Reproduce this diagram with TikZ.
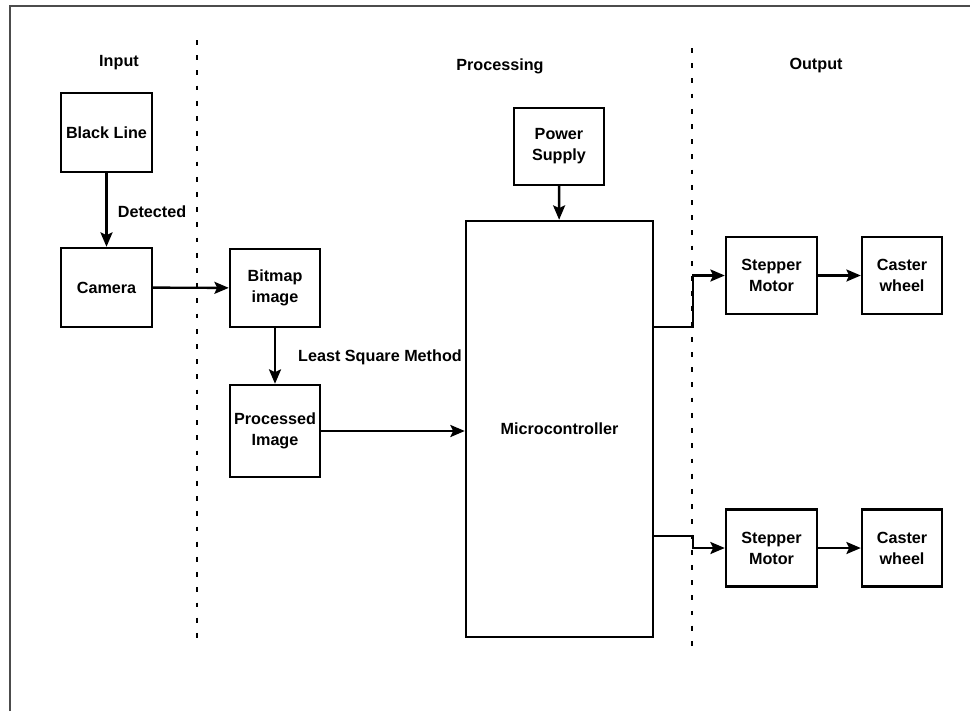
\documentclass[tikz,border=0pt]{standalone}
\usepackage{fontspec}
\setmainfont{Liberation Sans}
\usetikzlibrary{arrows.meta}

\tikzset{
  blk/.style={draw, line width=1.7pt, align=center, inner sep=2pt,
    font=\fontsize{11.5}{15}\selectfont\bfseries},
  lbl/.style={font=\fontsize{11.5}{15}\selectfont\bfseries},
  conn/.style={line width=1.7pt, -{Stealth[length=0.36cm,width=0.3cm,inset=0.07cm]}},
  sep/.style={line width=1.6pt, dash pattern=on 0.12cm off 0.26cm}
}

\begin{document}
\begin{tikzpicture}[x=0.025cm,y=-0.025cm]
            \useasboundingbox (0,0) rectangle (970,711);
            \draw[line width=2pt, black!70] (10,711) -- (10,6) -- (970,6);

            \node[lbl] (in) at (119,63) {Input};
            \node[lbl] (proc) at (500,66) {Processing};
            \node[lbl] (out) at (816,66) {Output};

            \draw[sep] (197,40) -- (197,640);
            \draw[sep] (692,48) -- (692,647);

            \node[blk, minimum width=2.275cm, minimum height=1.975cm] (line) at (106.5,132.5) {Black Line};
            \node[blk, minimum width=2.275cm, minimum height=1.975cm] (cam) at (106.5,287.5) {Camera};
            \node[blk, minimum width=2.25cm, minimum height=1.95cm] (bmp) at (275,288) {Bitmap\\image};
            \node[blk, minimum width=2.25cm, minimum height=2.3cm] (pimg) at (275,431) {Processed\\Image};
            \node[blk, minimum width=2.25cm, minimum height=1.925cm] (pwr) at (559,146.5) {Power\\Supply};
            \node[blk, minimum width=4.675cm, minimum height=10.4cm] (micro) at (559.5,429) {Microcontroller};

            \foreach \i/\y in {1/275.5,2/548}
            {
                \node[blk, minimum width=2.275cm, minimum height=1.925cm] (step\i) at (771.5,\y) {Stepper\\Motor};
                \node[blk, minimum width=2cm, minimum height=1.925cm] (cast\i) at (902,\y) {Caster\\wheel};
                \draw[conn] (step\i) -- (cast\i);
            }

            \node[lbl] (det) at (152,212) {Detected};
            \node[lbl] (lsm) at (380,357) {Least Square Method};

            \draw[conn] (line) -- (cam);
            \draw[conn] (cam) -- (bmp);
            \draw[conn] (bmp) -- (pimg);
            \draw[conn] (pimg) -- (micro.west |- pimg);
            \draw[conn] (pwr) -- (micro);

            \coordinate (tap1) at (0,327);
            \coordinate (tap2) at (0,536);
            \draw[conn] (micro.east |- tap1) -- ++(39,0) |- (step1.west);
            \draw[conn] (micro.east |- tap2) -- ++(39,0) |- (step2.west);
\end{tikzpicture}
\end{document}
